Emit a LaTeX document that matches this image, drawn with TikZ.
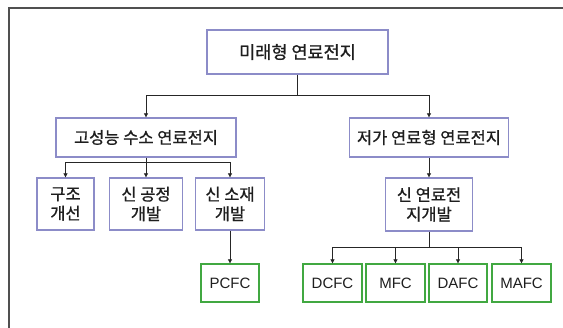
\documentclass[tikz,border=0pt]{standalone}
\usepackage{fontspec}
\setmainfont{Liberation Sans}
\newfontfamily\kr[FakeBold=0.8]{Noto Sans CJK KR}
\usetikzlibrary{arrows.meta}
\definecolor{boxpurple}{RGB}{140,140,200}
\definecolor{boxgreen}{RGB}{65,168,65}
\definecolor{txt}{RGB}{30,30,30}
\definecolor{frame}{RGB}{80,80,80}
\tikzset{
  pbox/.style={draw=boxpurple, line width=1.3pt, fill=white, inner sep=0pt, align=center, text=txt, font=\kr\fontsize{16.5}{19.5}\selectfont},
  gbox/.style={draw=boxgreen, line width=1.3pt, fill=white, inner sep=0pt, align=center, text=txt, font=\fontsize{15}{18}\selectfont, minimum width=58pt, minimum height=38pt},
  conn/.style={draw=black!85, line width=0.7pt},
  arr/.style={conn, -{Triangle[length=4pt,width=4pt]}}
}
\begin{document}
\begin{tikzpicture}[x=1pt,y=-1pt]
\useasboundingbox (0,0) rectangle (563,328);
\draw[frame, line width=1.3pt] (9,330) -- (9,8) -- (566,8);
% nodes
\node[pbox, minimum width=181pt, minimum height=44pt, font=\kr\fontsize{17.5}{19}\selectfont] (top) at (297.5,52) {미래형 연료전지};
\node[pbox, minimum width=180pt, minimum height=39pt] (L1) at (146,137.5) {고성능 수소 연료전지};
\node[pbox, minimum width=159pt, minimum height=39pt] (R1) at (429,137.5) {저가 연료형 연료전지};
\node[pbox, minimum width=57pt, minimum height=52pt] (A1) at (65.5,204) {구조\\개선};
\node[pbox, minimum width=73pt, minimum height=52pt] (A2) at (146,204) {신 공정\\개발};
\node[pbox, minimum width=69pt, minimum height=52pt] (A3) at (230,204) {신 소재\\개발};
\node[pbox, minimum width=87pt, minimum height=53pt] (R2) at (429,204.5) {신 연료전\\지개발};
\node[gbox] (P) at (230,283) {PCFC};
\node[gbox, minimum width=59pt] (D) at (332.5,283) {DCFC};
\node[gbox, minimum width=59pt] (M) at (395.5,283) {MFC};
\node[gbox] (DA) at (458,283) {DAFC};
\node[gbox, minimum width=59pt] (MA) at (521.5,283) {MAFC};
% connectors
\coordinate (s1) at (297.5,95);
\coordinate (s2) at (146,162);
\coordinate (s3) at (429,247);
\draw[conn] (top.south) -- (s1);
\draw[arr] (s1) -| (L1.north);
\draw[arr] (s1) -| (R1.north);
\draw[conn] (L1.south) -- (s2);
\draw[arr] (s2) -| (A1.north);
\draw[arr] (s2) -- (A2.north);
\draw[arr] (s2) -| (A3.north);
\draw[arr] (R1.south) -- (R2.north);
\draw[arr] (A3.south) -- (P.north);
\draw[conn] (R2.south) -- (s3);
\draw[arr] (s3) -| (D.north);
\draw[arr] (s3) -| (M.north);
\draw[arr] (s3) -| (DA.north);
\draw[arr] (s3) -| (MA.north);
\end{tikzpicture}
\end{document}
